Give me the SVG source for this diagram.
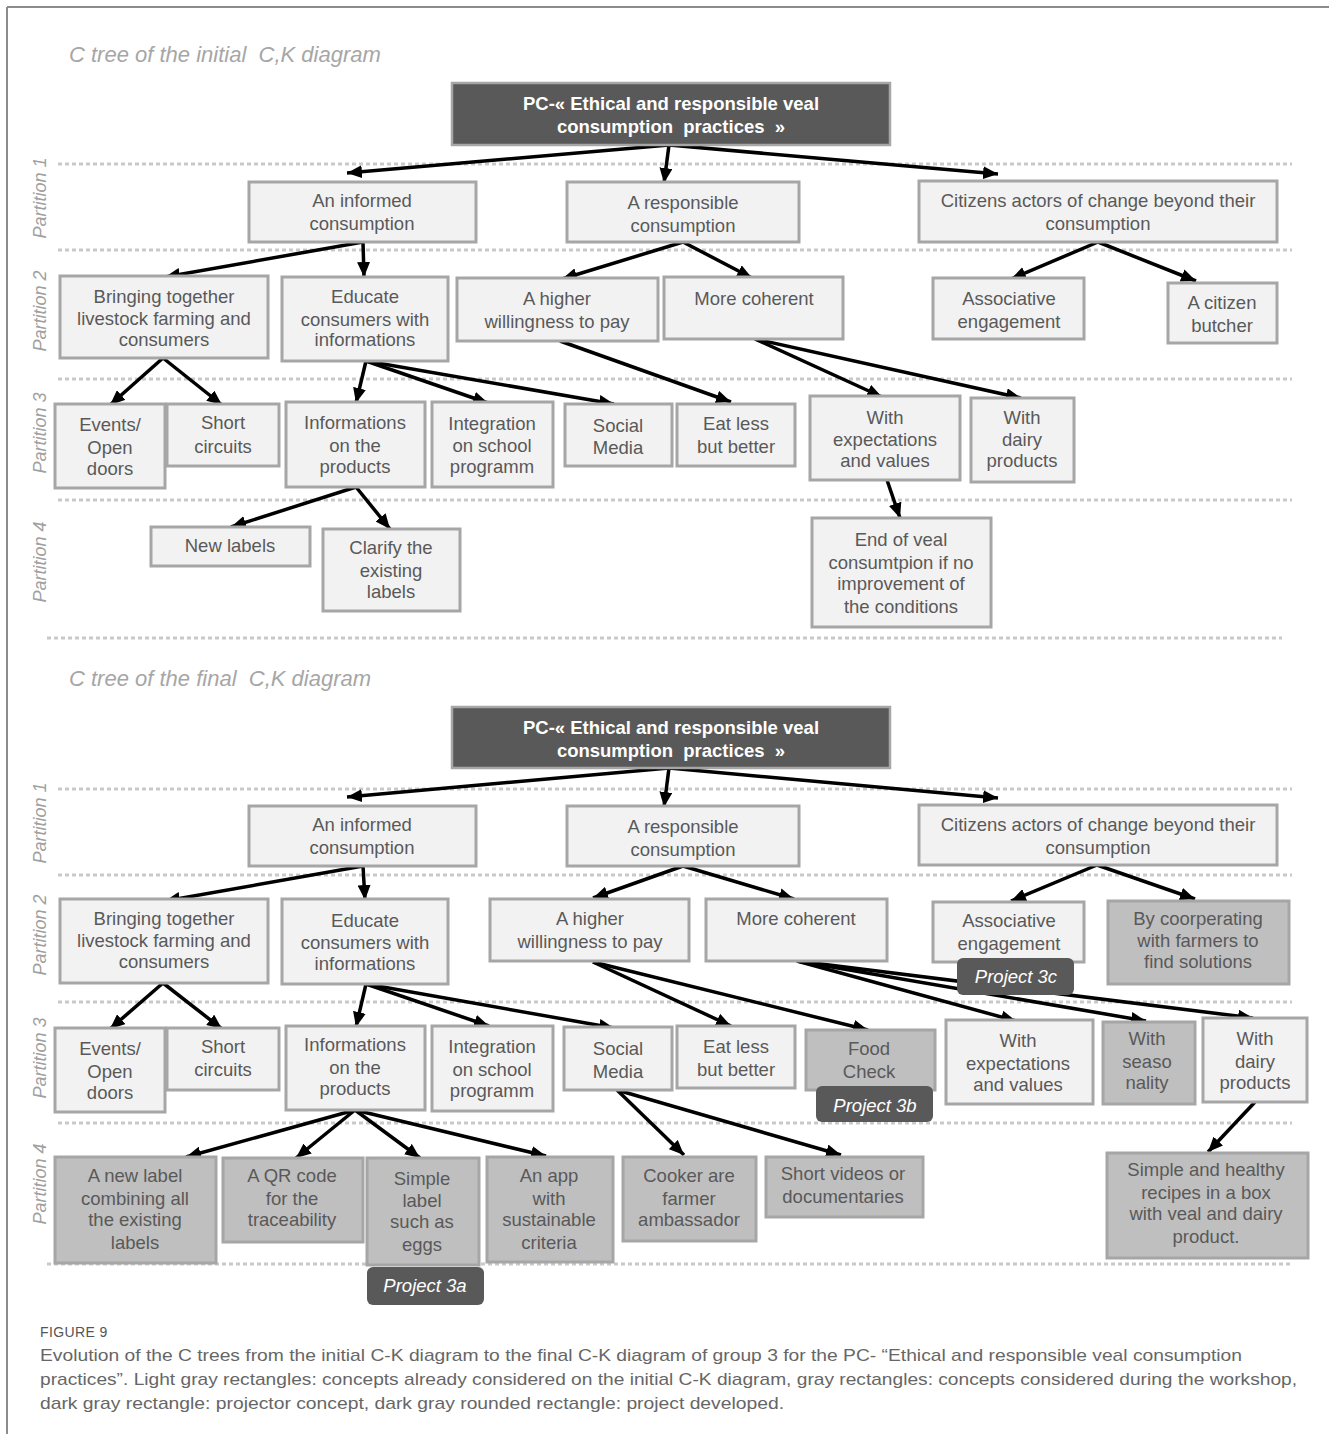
<svg xmlns="http://www.w3.org/2000/svg" width="1329" height="1434" viewBox="0 0 1329 1434">
<defs>
<marker id="ah" markerUnits="userSpaceOnUse" markerWidth="15" markerHeight="13" refX="15" refY="6.5" orient="auto">
<path d="M0,0 L15,6.5 L0,13 z" fill="#000"/>
</marker>
<style>
.lb{fill:#f2f2f2;stroke:#a6a6a6;stroke-width:3}
.gb{fill:#bfbfbf;stroke:#a6a6a6;stroke-width:3}
.root{fill:#595959;stroke:#a6a6a6;stroke-width:2.5}
.pj{fill:#595959}
.t{font-family:"Liberation Sans",Arial,sans-serif;font-size:18.5px;fill:#595959;text-anchor:middle}
.rt{font-family:"Liberation Sans",Arial,sans-serif;font-size:18.5px;font-weight:bold;fill:#fff;text-anchor:middle;white-space:pre}
.pt{font-family:"Liberation Sans",Arial,sans-serif;font-size:18.5px;font-style:italic;fill:#fff;text-anchor:middle}
.ttl{font-family:"Liberation Sans",Arial,sans-serif;font-size:22px;font-style:italic;fill:#a6a6a6;white-space:pre}
.pl{font-family:"Liberation Sans",Arial,sans-serif;font-size:18px;font-style:italic;fill:#a0a0a0;text-anchor:middle}
.dot{stroke:#c9c9c9;stroke-width:3;stroke-dasharray:4 3;fill:none}
.ar{stroke:#000;stroke-width:3.5;fill:none;marker-end:url(#ah)}
.cap{font-family:"Liberation Sans",Arial,sans-serif;font-size:17px;fill:#666}
.fig{font-family:"Liberation Sans",Arial,sans-serif;font-size:14px;fill:#555;letter-spacing:0.4px}
</style>
</defs>
<rect width="1329" height="1434" fill="#fff"/>
<g id="frame">
<line x1="7" y1="7" x2="1329" y2="7" stroke="#8c8c8c" stroke-width="2"/>
<line x1="7" y1="7" x2="7" y2="1434" stroke="#8c8c8c" stroke-width="2"/>
</g>
<g id="guides">
<text class="ttl" x="69" y="62" xml:space="preserve">C tree of the initial  C,K diagram</text>
<line class="dot" x1="58" y1="164" x2="1292" y2="164"/>
<line class="dot" x1="58" y1="250" x2="1292" y2="250"/>
<line class="dot" x1="58" y1="379" x2="1292" y2="379"/>
<line class="dot" x1="58" y1="500" x2="1292" y2="500"/>
<line class="dot" x1="47" y1="638" x2="1282" y2="638"/>
<text class="pl" transform="translate(46,198) rotate(-90)">Partition 1</text>
<text class="pl" transform="translate(46,311) rotate(-90)">Partition 2</text>
<text class="pl" transform="translate(46,433) rotate(-90)">Partition 3</text>
<text class="pl" transform="translate(46,562) rotate(-90)">Partition 4</text>
<text class="ttl" x="69" y="686" xml:space="preserve">C tree of the final  C,K diagram</text>
<line class="dot" x1="58" y1="789" x2="1292" y2="789"/>
<line class="dot" x1="58" y1="875" x2="1292" y2="875"/>
<line class="dot" x1="58" y1="1002" x2="1292" y2="1002"/>
<line class="dot" x1="58" y1="1123" x2="1292" y2="1123"/>
<line class="dot" x1="47" y1="1264" x2="1290" y2="1264"/>
<text class="pl" transform="translate(46,823) rotate(-90)">Partition 1</text>
<text class="pl" transform="translate(46,935) rotate(-90)">Partition 2</text>
<text class="pl" transform="translate(46,1058) rotate(-90)">Partition 3</text>
<text class="pl" transform="translate(46,1184) rotate(-90)">Partition 4</text>
</g>
<g id="connectors">
<line class="ar" x1="669" y1="145" x2="347" y2="173"/>
<line class="ar" x1="669" y1="145" x2="664" y2="183"/>
<line class="ar" x1="669" y1="145" x2="998" y2="174"/>
<line class="ar" x1="363" y1="242" x2="165" y2="277"/>
<line class="ar" x1="363" y1="242" x2="364" y2="277"/>
<line class="ar" x1="683" y1="242" x2="562" y2="279"/>
<line class="ar" x1="683" y1="242" x2="752" y2="278"/>
<line class="ar" x1="1098" y1="242" x2="1011" y2="279"/>
<line class="ar" x1="1098" y1="242" x2="1196" y2="281"/>
<line class="ar" x1="163" y1="358" x2="110" y2="405"/>
<line class="ar" x1="163" y1="358" x2="222" y2="405"/>
<line class="ar" x1="366" y1="361" x2="356" y2="403"/>
<line class="ar" x1="366" y1="361" x2="488" y2="403"/>
<line class="ar" x1="366" y1="361" x2="614" y2="404"/>
<line class="ar" x1="560" y1="341" x2="731" y2="402"/>
<line class="ar" x1="755" y1="339" x2="882" y2="397"/>
<line class="ar" x1="755" y1="339" x2="1021" y2="398"/>
<line class="ar" x1="887" y1="480" x2="900" y2="518"/>
<line class="ar" x1="356" y1="487" x2="231" y2="527"/>
<line class="ar" x1="356" y1="487" x2="390" y2="529"/>
<line class="ar" x1="669" y1="768" x2="347" y2="797"/>
<line class="ar" x1="669" y1="768" x2="664" y2="807"/>
<line class="ar" x1="669" y1="768" x2="998" y2="798"/>
<line class="ar" x1="363" y1="866" x2="165" y2="901"/>
<line class="ar" x1="363" y1="866" x2="365" y2="900"/>
<line class="ar" x1="683" y1="866" x2="593" y2="898"/>
<line class="ar" x1="683" y1="866" x2="794" y2="899"/>
<line class="ar" x1="1097" y1="865" x2="1011" y2="901"/>
<line class="ar" x1="1097" y1="865" x2="1195" y2="899"/>
<line class="ar" x1="163" y1="983" x2="110" y2="1029"/>
<line class="ar" x1="163" y1="983" x2="222" y2="1029"/>
<line class="ar" x1="366" y1="984" x2="356" y2="1027"/>
<line class="ar" x1="366" y1="984" x2="489" y2="1026"/>
<line class="ar" x1="366" y1="984" x2="614" y2="1028"/>
<line class="ar" x1="593" y1="962" x2="731" y2="1026"/>
<line class="ar" x1="593" y1="962" x2="868" y2="1030"/>
<line class="ar" x1="797" y1="961" x2="1016" y2="1021"/>
<line class="ar" x1="797" y1="961" x2="1146" y2="1021"/>
<line class="ar" x1="797" y1="961" x2="1253" y2="1018"/>
<line class="ar" x1="355" y1="1110" x2="186" y2="1157"/>
<line class="ar" x1="355" y1="1110" x2="296" y2="1158"/>
<line class="ar" x1="355" y1="1110" x2="420" y2="1158"/>
<line class="ar" x1="355" y1="1110" x2="546" y2="1156"/>
<line class="ar" x1="617" y1="1090" x2="684" y2="1155"/>
<line class="ar" x1="617" y1="1090" x2="841" y2="1155"/>
<line class="ar" x1="1255" y1="1102" x2="1208" y2="1152"/>
</g>
<g id="t-root"><rect class="root" x="452" y="83" width="438" height="62"/>
<text class="rt" x="671" y="109.5">PC-« Ethical and responsible veal</text>
<text class="rt" x="671" y="132.5" xml:space="preserve">consumption  practices  »</text></g>
<g id="t-informed"><rect class="lb" x="249" y="182" width="227" height="60"/>
<text class="t" x="362" y="207">An informed</text><text class="t" x="362" y="230">consumption</text></g>
<g id="t-responsible"><rect class="lb" x="567" y="182" width="232" height="60"/>
<text class="t" x="683" y="209">A responsible</text><text class="t" x="683" y="232">consumption</text></g>
<g id="t-citizens"><rect class="lb" x="919" y="181" width="358" height="61"/>
<text class="t" x="1098" y="207">Citizens actors of change beyond their</text><text class="t" x="1098" y="230">consumption</text></g>
<g id="t-bringing"><rect class="lb" x="60" y="276" width="208" height="82"/>
<text class="t" x="164" y="303">Bringing together</text><text class="t" x="164" y="325">livestock farming and</text><text class="t" x="164" y="346">consumers</text></g>
<g id="t-educate"><rect class="lb" x="282" y="277" width="166" height="84"/>
<text class="t" x="365" y="303">Educate</text><text class="t" x="365" y="326">consumers with</text><text class="t" x="365" y="346">informations</text></g>
<g id="t-higher"><rect class="lb" x="457" y="278" width="201" height="63"/>
<text class="t" x="557" y="305">A higher</text><text class="t" x="557" y="328">willingness to pay</text></g>
<g id="t-coherent"><rect class="lb" x="664" y="277" width="179" height="62"/>
<text class="t" x="754" y="305">More coherent</text></g>
<g id="t-associative"><rect class="lb" x="933" y="278" width="151" height="61"/>
<text class="t" x="1009" y="305">Associative</text><text class="t" x="1009" y="328">engagement</text></g>
<g id="t-butcher"><rect class="lb" x="1168" y="283" width="109" height="60"/>
<text class="t" x="1222" y="309">A citizen</text><text class="t" x="1222" y="332">butcher</text></g>
<g id="t-events"><rect class="lb" x="55" y="404" width="110" height="84"/>
<text class="t" x="110" y="431">Events/</text><text class="t" x="110" y="454">Open</text><text class="t" x="110" y="475">doors</text></g>
<g id="t-short"><rect class="lb" x="167" y="404" width="112" height="62"/>
<text class="t" x="223" y="429">Short</text><text class="t" x="223" y="453">circuits</text></g>
<g id="t-infoprod"><rect class="lb" x="286" y="402" width="139" height="85"/>
<text class="t" x="355" y="429">Informations</text><text class="t" x="355" y="452">on the</text><text class="t" x="355" y="473">products</text></g>
<g id="t-integration"><rect class="lb" x="432" y="402" width="121" height="85"/>
<text class="t" x="492" y="430">Integration</text><text class="t" x="492" y="452">on school</text><text class="t" x="492" y="473">programm</text></g>
<g id="t-social"><rect class="lb" x="565" y="404" width="107" height="62"/>
<text class="t" x="618" y="432">Social</text><text class="t" x="618" y="454">Media</text></g>
<g id="t-eatless"><rect class="lb" x="677" y="404" width="118" height="62"/>
<text class="t" x="736" y="430">Eat less</text><text class="t" x="736" y="453">but better</text></g>
<g id="t-expect"><rect class="lb" x="810" y="396" width="150" height="84"/>
<text class="t" x="885" y="424">With</text><text class="t" x="885" y="446">expectations</text><text class="t" x="885" y="467">and values</text></g>
<g id="t-dairy"><rect class="lb" x="971" y="398" width="103" height="84"/>
<text class="t" x="1022" y="424">With</text><text class="t" x="1022" y="446">dairy</text><text class="t" x="1022" y="467">products</text></g>
<g id="t-newlabels"><rect class="lb" x="151" y="527" width="159" height="39"/>
<text class="t" x="230" y="552">New labels</text></g>
<g id="t-clarify"><rect class="lb" x="323" y="529" width="137" height="82"/>
<text class="t" x="391" y="554">Clarify the</text><text class="t" x="391" y="577">existing</text><text class="t" x="391" y="598">labels</text></g>
<g id="t-endveal"><rect class="lb" x="812" y="518" width="179" height="109"/>
<text class="t" x="901" y="546">End of veal</text><text class="t" x="901" y="569">consumtpion if no</text><text class="t" x="901" y="590">improvement of</text><text class="t" x="901" y="613">the conditions</text></g>
<g id="b-root"><rect class="root" x="452" y="707" width="438" height="61"/>
<text class="rt" x="671" y="733.5">PC-« Ethical and responsible veal</text>
<text class="rt" x="671" y="756.5" xml:space="preserve">consumption  practices  »</text></g>
<g id="b-informed"><rect class="lb" x="249" y="806" width="227" height="60"/>
<text class="t" x="362" y="831">An informed</text><text class="t" x="362" y="854">consumption</text></g>
<g id="b-responsible"><rect class="lb" x="567" y="806" width="232" height="60"/>
<text class="t" x="683" y="833">A responsible</text><text class="t" x="683" y="856">consumption</text></g>
<g id="b-citizens"><rect class="lb" x="919" y="805" width="358" height="60"/>
<text class="t" x="1098" y="831">Citizens actors of change beyond their</text><text class="t" x="1098" y="854">consumption</text></g>
<g id="b-bringing"><rect class="lb" x="60" y="899" width="208" height="84"/>
<text class="t" x="164" y="925">Bringing together</text><text class="t" x="164" y="947">livestock farming and</text><text class="t" x="164" y="968">consumers</text></g>
<g id="b-educate"><rect class="lb" x="282" y="899" width="166" height="85"/>
<text class="t" x="365" y="927">Educate</text><text class="t" x="365" y="949">consumers with</text><text class="t" x="365" y="970">informations</text></g>
<g id="b-higher"><rect class="lb" x="490" y="899" width="199" height="62"/>
<text class="t" x="590" y="925">A higher</text><text class="t" x="590" y="948">willingness to pay</text></g>
<g id="b-coherent"><rect class="lb" x="706" y="899" width="181" height="62"/>
<text class="t" x="796" y="925">More coherent</text></g>
<g id="b-associative"><rect class="lb" x="933" y="902" width="151" height="60"/>
<text class="t" x="1009" y="927">Associative</text><text class="t" x="1009" y="950">engagement</text></g>
<g id="b-cooperating"><rect class="gb" x="1108" y="901" width="181" height="83"/>
<text class="t" x="1198" y="925">By coorperating</text><text class="t" x="1198" y="947">with farmers to</text><text class="t" x="1198" y="968">find solutions</text></g>
<g id="b-project3c"><rect class="pj" x="957" y="958" width="117" height="37" rx="6"/>
<text class="pt" x="1016" y="983">Project 3c</text></g>
<g id="b-events"><rect class="lb" x="55" y="1028" width="110" height="84"/>
<text class="t" x="110" y="1055">Events/</text><text class="t" x="110" y="1078">Open</text><text class="t" x="110" y="1099">doors</text></g>
<g id="b-short"><rect class="lb" x="167" y="1028" width="112" height="62"/>
<text class="t" x="223" y="1053">Short</text><text class="t" x="223" y="1076">circuits</text></g>
<g id="b-infoprod"><rect class="lb" x="286" y="1026" width="139" height="84"/>
<text class="t" x="355" y="1051">Informations</text><text class="t" x="355" y="1074">on the</text><text class="t" x="355" y="1095">products</text></g>
<g id="b-integration"><rect class="lb" x="432" y="1026" width="121" height="85"/>
<text class="t" x="492" y="1053">Integration</text><text class="t" x="492" y="1076">on school</text><text class="t" x="492" y="1097">programm</text></g>
<g id="b-social"><rect class="lb" x="564" y="1027" width="108" height="63"/>
<text class="t" x="618" y="1055">Social</text><text class="t" x="618" y="1078">Media</text></g>
<g id="b-eatless"><rect class="lb" x="677" y="1026" width="118" height="62"/>
<text class="t" x="736" y="1053">Eat less</text><text class="t" x="736" y="1076">but better</text></g>
<g id="b-foodcheck"><rect class="gb" x="806" y="1030" width="129" height="60"/>
<text class="t" x="869" y="1055">Food</text><text class="t" x="869" y="1078">Check</text></g>
<g id="b-project3b"><rect class="pj" x="816" y="1086" width="117" height="36" rx="6"/>
<text class="pt" x="875" y="1112">Project 3b</text></g>
<g id="b-expect"><rect class="lb" x="946" y="1020" width="147" height="84"/>
<text class="t" x="1018" y="1047">With</text><text class="t" x="1018" y="1070">expectations</text><text class="t" x="1018" y="1091">and values</text></g>
<g id="b-season"><rect class="gb" x="1103" y="1022" width="92" height="82"/>
<text class="t" x="1147" y="1045">With</text><text class="t" x="1147" y="1068">seaso</text><text class="t" x="1147" y="1089">nality</text></g>
<g id="b-dairy"><rect class="lb" x="1203" y="1018" width="104" height="84"/>
<text class="t" x="1255" y="1045">With</text><text class="t" x="1255" y="1068">dairy</text><text class="t" x="1255" y="1089">products</text></g>
<g id="b-newlabel"><rect class="gb" x="55" y="1157" width="161" height="106"/>
<text class="t" x="135" y="1182">A new label</text><text class="t" x="135" y="1205">combining all</text><text class="t" x="135" y="1226">the existing</text><text class="t" x="135" y="1249">labels</text></g>
<g id="b-qr"><rect class="gb" x="223" y="1158" width="140" height="84"/>
<text class="t" x="292" y="1182">A QR code</text><text class="t" x="292" y="1205">for the</text><text class="t" x="292" y="1226">traceability</text></g>
<g id="b-simplelabel"><rect class="gb" x="367" y="1158" width="112" height="107"/>
<text class="t" x="422" y="1185">Simple</text><text class="t" x="422" y="1207">label</text><text class="t" x="422" y="1228">such as</text><text class="t" x="422" y="1251">eggs</text></g>
<g id="b-project3a"><rect class="pj" x="367" y="1267" width="117" height="38" rx="6"/>
<text class="pt" x="425" y="1292">Project 3a</text></g>
<g id="b-app"><rect class="gb" x="487" y="1157" width="126" height="105"/>
<text class="t" x="549" y="1182">An app</text><text class="t" x="549" y="1205">with</text><text class="t" x="549" y="1226">sustainable</text><text class="t" x="549" y="1249">criteria</text></g>
<g id="b-cooker"><rect class="gb" x="623" y="1157" width="133" height="84"/>
<text class="t" x="689" y="1182">Cooker are</text><text class="t" x="689" y="1205">farmer</text><text class="t" x="689" y="1226">ambassador</text></g>
<g id="b-videos"><rect class="gb" x="766" y="1157" width="157" height="60"/>
<text class="t" x="843" y="1180">Short videos or</text><text class="t" x="843" y="1203">documentaries</text></g>
<g id="b-recipes"><rect class="gb" x="1107" y="1153" width="201" height="105"/>
<text class="t" x="1206" y="1176">Simple and healthy</text><text class="t" x="1206" y="1199">recipes in a box</text><text class="t" x="1206" y="1220">with veal and dairy</text><text class="t" x="1206" y="1243">product.</text></g>
<g id="caption">
<text class="fig" x="40" y="1337">FIGURE 9</text>
<text class="cap" x="40" y="1361" textLength="1202" lengthAdjust="spacingAndGlyphs">Evolution of the C trees from the initial C-K diagram to the final C-K diagram of group 3 for the PC- “Ethical and responsible veal consumption</text>
<text class="cap" x="40" y="1385" textLength="1257" lengthAdjust="spacingAndGlyphs">practices”. Light gray rectangles: concepts already considered on the initial C-K diagram, gray rectangles: concepts considered during the workshop,</text>
<text class="cap" x="40" y="1409" textLength="744" lengthAdjust="spacingAndGlyphs">dark gray rectangle: projector concept, dark gray rounded rectangle: project developed.</text>
</g>
</svg>
